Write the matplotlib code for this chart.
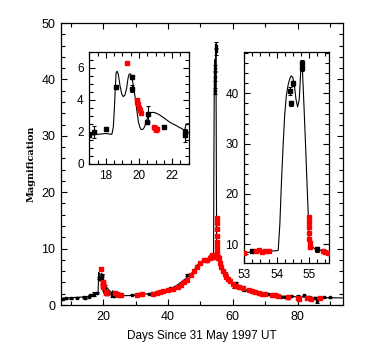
import matplotlib
matplotlib.use("Agg")
import matplotlib.pyplot as plt
from matplotlib.ticker import MultipleLocator

# model light curve
model_x = [7, 10, 13, 15, 17, 18.0, 18.36, 18.45, 18.52, 18.58, 18.62, 18.68, 18.75,
           18.85, 18.96, 19.05, 19.15, 19.25, 19.33, 19.4, 19.48, 19.55, 19.62, 19.7,
           19.8, 19.9, 19.97, 20.05, 20.13, 20.22, 20.3, 20.4, 20.5, 20.58, 20.7,
           20.8, 20.95, 21.08, 21.25, 21.4, 21.6, 21.8, 22.0, 22.2, 22.4, 22.6, 22.7,
           22.75, 22.8, 22.85, 23.0, 24, 26, 30, 34, 38, 40.2, 43, 46.9,
           49.5, 51.5, 52.6, 53.2, 53.7, 54.0, 54.05, 54.1, 54.15, 54.2, 54.25, 54.3,
           54.35, 54.4, 54.45, 54.5, 54.55, 54.6, 54.65, 54.7, 54.73, 54.76, 54.8,
           54.85, 54.9, 54.95, 54.98, 55.01, 55.1, 55.17, 55.4,
           55.63, 56.5, 57.7, 59.8, 61.5, 63.9, 65.5, 69.1, 74.7, 80, 85, 90, 94]
model_y = [1.2, 1.3, 1.4, 1.5, 1.8, 1.9, 1.85, 2.3, 3.6, 5.0, 5.7, 5.78, 5.6,
           4.9, 4.35, 4.2, 4.3, 4.7, 5.3, 5.6, 5.62, 5.5, 5.1, 4.6,
           3.9, 3.1, 2.6, 2.3, 2.15, 2.15, 2.25, 2.5, 2.85, 3.1, 3.2,
           3.22, 3.2, 3.15, 3.05, 2.95, 2.8, 2.65, 2.52, 2.42, 2.3, 2.2, 2.1,
           2.05, 2.3, 2.5, 2.5, 1.8, 1.65, 1.7, 2.0, 2.4, 2.66, 3.6, 5.3,
           7.4, 8.1, 8.3, 8.4, 8.6, 8.7, 8.8, 14.0, 22.4, 29.5, 35.7, 39.5,
           41.5, 42.8, 43.5, 43.2, 41.5, 38.8, 37.3, 38.8, 42.5, 46.3, 44.5,
           37.0, 29.0, 20.5, 15.8, 10.5, 9.6, 9.1, 8.7,
           8.3, 6.4, 5.0, 3.85, 3.2, 2.66, 2.36, 1.95, 1.6, 1.45, 1.35, 1.3, 1.25]

# black data points with error bars
blk_x = [7.5, 8.5, 10, 12, 14, 14.5, 15.5, 16, 17, 17.3, 18, 18.6, 19.55, 19.6,
         20.5, 20.55, 21.5, 22.75, 22.8, 23.5, 29, 31, 34, 35, 37, 40.5, 46, 49,
         52, 53.25, 54.4, 54.45, 54.5, 54.78, 54.8, 55.25, 58, 60.5, 61, 63.5, 67,
         71, 75, 76, 77, 78, 80, 82, 83.5, 85.5, 86, 88, 90]
blk_y = [1.1, 1.2, 1.2, 1.3, 1.4, 1.2, 1.5, 1.7, 1.8, 2.0, 2.2, 4.8, 5.4, 4.7,
         2.6, 3.1, 2.3, 2.0, 1.8, 1.6, 1.8, 1.9, 2.0, 2.1, 2.3, 3.0, 5.3, 6.9,
         7.8, 8.6, 40.5, 38.0, 42.0, 45.0, 46.0, 9.0, 5.3, 3.4, 3.9, 2.7, 2.3,
         1.9, 1.5, 1.4, 1.2, 1.6, 1.6, 1.7, 1.5, 1.2, 0.7, 1.4, 1.4]
blk_err = [0.1, 0.1, 0.1, 0.1, 0.1, 0.1, 0.1, 0.1, 0.1, 0.35, 0.1, 0.15, 0.1, 0.2,
           0.1, 0.5, 0.1, 0.1, 0.4, 0.1, 0.1, 0.1, 0.1, 0.1, 0.1, 0.1, 0.2, 0.2,
           0.2, 0.2, 0.8, 0.5, 0.5, 0.6, 0.6, 0.5, 0.2, 0.4, 0.2, 0.2, 0.1,
           0.1, 0.1, 0.1, 0.1, 0.1, 0.1, 0.1, 0.1, 0.2, 0.4, 0.1, 0.1]

# red data points
red_x = [19.3, 19.85, 19.9, 19.95, 20.0, 20.05, 20.1, 20.9, 20.95, 21.0, 21.05,
         21.1, 23.8, 24.3, 25, 25.5, 30.5, 32, 35.5, 36.5, 37.5, 38.5, 40, 41.5,
         43, 44, 45, 46, 47, 48, 49, 50, 51, 52, 53.0, 53.35, 53.45, 53.55, 53.65,
         53.75, 55.0, 55.0, 55.0, 55.01, 55.01, 55.02, 55.03, 55.45, 55.5, 55.6,
         56, 56.5, 57, 57.5, 58, 58.5, 59, 60, 61, 62, 63, 65, 66, 67, 68, 69, 70,
         72, 73, 74, 77, 80, 80.5, 83, 84, 87]
red_y = [6.3, 4.0, 3.85, 3.75, 3.5, 3.35, 3.15, 2.3, 2.25, 2.2, 2.15,
         2.2, 2.2, 1.9, 1.8, 1.8, 1.8, 1.9, 2.0, 2.2, 2.3, 2.4, 2.6, 2.9,
         3.2, 3.5, 4.0, 4.5, 5.3, 6.0, 6.8, 7.5, 7.9, 8.0, 8.3, 8.6, 8.8, 8.5, 8.7,
         8.6, 15.5, 14.5, 13.4, 12.3, 11.1, 10.2, 9.4, 8.6, 8.4, 8.3,
         7.5, 6.8, 6.0, 5.5, 5.0, 4.6, 4.3, 3.8, 3.4, 3.2, 3.0, 2.6, 2.4, 2.3, 2.1, 2.0, 1.9,
         1.8, 1.7, 1.6, 1.5, 1.2, 1.0, 1.2, 1.1, 1.3]

fig = plt.figure(figsize=(3.81, 3.58), dpi=100)
plt.rcParams['font.family'] = ['Liberation Sans', 'DejaVu Sans']


def draw(ax, ms_b, ms_r):
    ax.plot(model_x, model_y, color='black', lw=0.8, zorder=2)
    ax.errorbar(blk_x, blk_y, yerr=blk_err, fmt='s', color='black', ms=ms_b,
                elinewidth=0.8, capsize=1.5, capthick=0.8, zorder=3)
    ax.plot(red_x, red_y, 's', color='red', ms=ms_r, mec='red', zorder=4)


def style(ax, fs):
    ax.tick_params(which='both', direction='in', top=True, right=True,
                   labelsize=fs, width=0.8)
    ax.tick_params(which='major', length=4.5, pad=4)
    ax.tick_params(which='minor', length=2.8)
    for s in ax.spines.values():
        s.set_linewidth(0.9)


ax = fig.add_axes([0.1601, 0.148, 0.7402, 0.7877])
draw(ax, 2.0, 2.2)
ax.set_xlim(7, 94)
ax.set_ylim(0, 50)
ax.xaxis.set_major_locator(MultipleLocator(20))
ax.xaxis.set_minor_locator(MultipleLocator(10))
ax.yaxis.set_major_locator(MultipleLocator(10))
ax.yaxis.set_minor_locator(MultipleLocator(2))
style(ax, 9)
ax.set_xlabel('Days Since 31 May 1997 UT', fontsize=8.5, labelpad=5)
ax.set_ylabel('Magnification', fontsize=7, fontweight='bold',
              family='DejaVu Serif', labelpad=4)

ax1 = fig.add_axes([0.2344, 0.5419, 0.2609, 0.3137])
draw(ax1, 2.5, 3)
ax1.set_xlim(17, 23)
ax1.set_ylim(0, 7)
ax1.xaxis.set_major_locator(MultipleLocator(2))
ax1.xaxis.set_minor_locator(MultipleLocator(0.5))
ax1.yaxis.set_major_locator(MultipleLocator(2))
ax1.yaxis.set_minor_locator(MultipleLocator(0.5))
style(ax1, 8.5)

ax2 = fig.add_axes([0.6412, 0.2645, 0.2231, 0.5911])
draw(ax2, 2.5, 2.6)
ax2.set_xlim(53, 55.63)
ax2.set_ylim(6.2, 48.3)
ax2.xaxis.set_major_locator(MultipleLocator(1))
ax2.xaxis.set_minor_locator(MultipleLocator(0.25))
ax2.yaxis.set_major_locator(MultipleLocator(10))
ax2.yaxis.set_minor_locator(MultipleLocator(2))
style(ax2, 8.5)

fig.savefig('out.png', dpi=100)
